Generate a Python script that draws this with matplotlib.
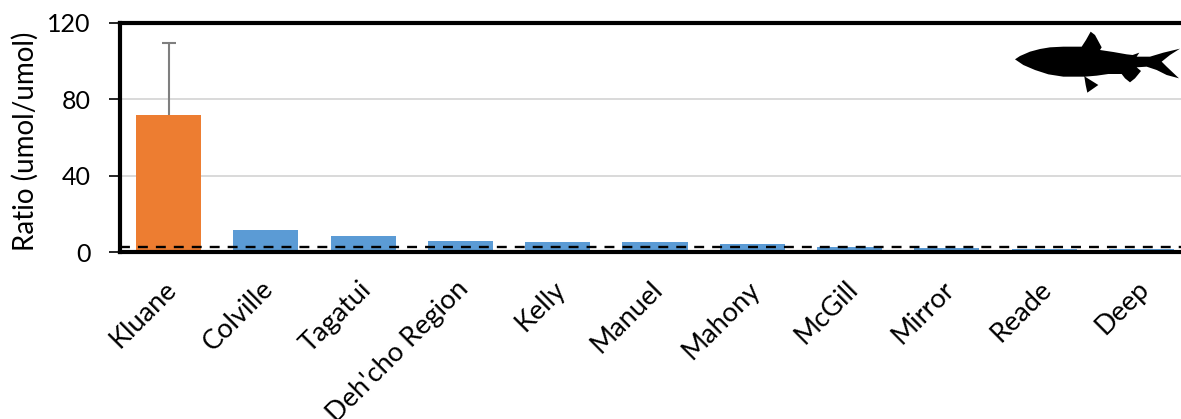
# Ratio bars per lake, fish silhouette in the corner
import matplotlib
matplotlib.use("Agg")
import matplotlib.pyplot as plt
from matplotlib.patches import Polygon
from matplotlib.transforms import ScaledTranslation

lakes = ["Kluane", "Colville", "Tagatui", "Deh'cho Region", "Kelly", "Manuel",
         "Mahony", "McGill", "Mirror", "Reade", "Deep"]
ratio = [72, 11.5, 8.5, 5.8, 5.5, 5, 4, 2.6, 2.3, 1.5, 1.4]
kluane_upper = 109.5
bar_colors = ["#ED7D31"] + ["#5B9BD5"] * 10
threshold = 2.4
y_ticks = [0, 40, 80, 120]

plt.rcParams["font.family"] = ["Lato", "DejaVu Sans"]

W, H = 1181, 419
fig = plt.figure(figsize=(W / 100, H / 100), dpi=100)
# right edge of the plot runs off the picture
ax = fig.add_axes([120 / W, (H - 252) / H, 1070 / W, 229 / H])

ax.bar(range(len(lakes)), ratio, width=0.67, color=bar_colors, zorder=2)
# only the upper whisker, no cap on the bar itself
ax.vlines(0, ratio[0], kluane_upper, color="#7F7F7F", lw=1.5, zorder=3)
ax.plot(0, kluane_upper, marker="_", ms=10, mew=1.5, color="#7F7F7F", zorder=3)
ax.axhline(threshold, color="black", lw=1.7, dashes=(4.2, 3.4), zorder=4)

ax.set_xlim(-0.5, 10.5)
ax.set_ylim(0, 120)
ax.set_yticks(y_ticks)
ax.yaxis.grid(True, color="#D9D9D9", lw=1.4, zorder=0)
ax.set_axisbelow(True)
ax.tick_params(axis="y", labelsize=18, length=8, width=1.2, pad=13, color="black")
ax.tick_params(axis="x", length=0)

ax.set_xticks(range(len(lakes)))
ax.set_xticklabels(lakes, rotation=45, ha="right", rotation_mode="anchor", fontsize=19.5)
offset = ScaledTranslation(-3.5 / 72, -14 / 72, fig.dpi_scale_trans)
for lab in ax.get_xticklabels():
    lab.set_transform(lab.get_transform() + offset)

ax.set_ylabel("Ratio (umol/umol)", fontsize=20)
ax.yaxis.set_label_coords(-81 / 1070, 111 / 229)

for s in ax.spines.values():
    s.set_linewidth(3)
    s.set_color("black")

fish = [(105, 148), (120, 138), (150, 125), (180, 117), (210, 112), (250, 110), (305, 110),
        (318, 90), (332, 65), (345, 75), (365, 112), (360, 120), (400, 126), (440, 133),
        (458, 135), (478, 128), (470, 140), (510, 140), (550, 128), (600, 116), (570, 135),
        (545, 155), (560, 170), (597, 205), (560, 195), (530, 180), (500, 170), (470, 172),
        (483, 183), (465, 205), (450, 217), (435, 205), (425, 192), (385, 192), (350, 197),
        (315, 200), (355, 225), (322, 248), (317, 225), (313, 200), (250, 200), (205, 193),
        (165, 180), (130, 165)]
fish_fig = [((980 + x / 3) / W, 1 - (10 + y / 3) / H) for x, y in fish]
fig.add_artist(Polygon(fish_fig, closed=True, color="black", lw=0, transform=fig.transFigure, zorder=5))

fig.savefig("out.png", dpi=100)
